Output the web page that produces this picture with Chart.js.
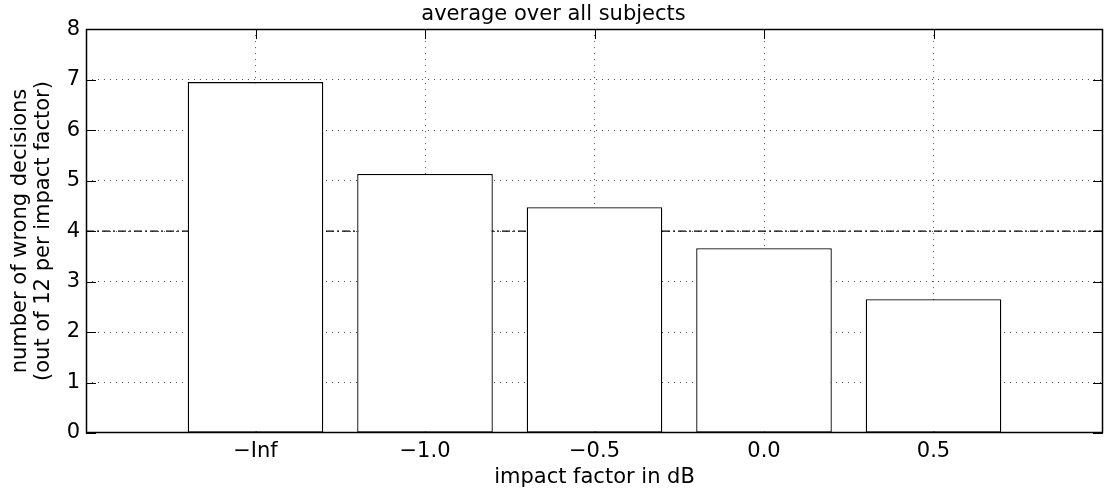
<!DOCTYPE html>
<html>
<head>
<meta charset="utf-8">
<title>average over all subjects</title>
<script src="https://cdn.jsdelivr.net/npm/chart.js@4.4.1/dist/chart.umd.min.js"></script>
<style>
  html, body { margin: 0; padding: 0; background: #fff; }
  #wrap { position: relative; width: 1109px; height: 496px; }
</style>
</head>
<body>
<div id="wrap"><canvas id="chart"></canvas></div>
<script>
// Impact factor conditions (x positions 1..5 on a 0..6 axis)
const categories = ['\u2212Inf', '\u22121.0', '\u22120.5', '0.0', '0.5'];
const positions = [1, 2, 3, 4, 5];
// Mean number of wrong decisions per condition
const wrongDecisions = [6.95, 5.13, 4.47, 3.66, 2.65];
// Horizontal reference level (half of 8)
const referenceLevel = [4, 4];
const referenceX = [0, 6];
const yTicks = [0, 1, 2, 3, 4, 5, 6, 7, 8];

const FONT = '"DejaVu Sans", sans-serif';

// Inside-pointing tick marks on all four sides, drawn under the bars
const innerTicks = {
  id: 'innerTicks',
  beforeDatasetsDraw(chart) {
    const { ctx, chartArea: a, scales: { x, y } } = chart;
    const len = 10;
    ctx.save();
    ctx.strokeStyle = '#000';
    ctx.lineWidth = 1;
    ctx.beginPath();
    yTicks.forEach(v => {
      const py = Math.round(y.getPixelForValue(v)) + 0.5;
      ctx.moveTo(a.left, py); ctx.lineTo(a.left + len, py);
      ctx.moveTo(a.right, py); ctx.lineTo(a.right - len, py);
    });
    positions.forEach(v => {
      const px = Math.round(x.getPixelForValue(v)) + 0.5;
      ctx.moveTo(px, a.top); ctx.lineTo(px, a.top + len);
      ctx.moveTo(px, a.bottom); ctx.lineTo(px, a.bottom - len);
    });
    ctx.stroke();
    ctx.restore();
  }
};

// Axes box around the plotting area
const frame = {
  id: 'frame',
  afterDatasetsDraw(chart) {
    const { ctx, chartArea: a } = chart;
    ctx.save();
    ctx.strokeStyle = '#000';
    ctx.lineWidth = 1.5;
    const l = Math.round(a.left) + 0.5, t = Math.round(a.top) + 0.5;
    const r = Math.round(a.right) - 0.5, b = Math.round(a.bottom) - 0.5;
    ctx.strokeRect(l, t, r - l, b - t);
    ctx.restore();
  }
};

const gridColor = (ctx, lo, hi) => {
  const v = ctx.tick && ctx.tick.value;
  return (v >= lo && v <= hi) ? '#555' : 'rgba(0,0,0,0)';
};

new Chart(document.getElementById('chart'), {
  type: 'bar',
  data: {
    datasets: [
      {
        type: 'bar',
        data: positions.map((p, i) => ({ x: p, y: wrongDecisions[i] })),
        backgroundColor: '#fff',
        borderColor: '#000',
        borderWidth: 1.3,
        borderSkipped: false,
        barPercentage: 0.8,
        categoryPercentage: 1.0,
        order: 1
      },
      {
        type: 'line',
        data: referenceX.map((p, i) => ({ x: p, y: referenceLevel[i] })),
        borderColor: '#000',
        borderWidth: 1.2,
        borderDash: [8, 3, 2, 3],
        pointRadius: 0,
        fill: false,
        order: 2
      }
    ]
  },
  options: {
    responsive: true,
    maintainAspectRatio: false,
    devicePixelRatio: 1,
    animation: false,
    layout: { padding: { left: 0, right: 2, top: 0, bottom: 0 } },
    plugins: {
      legend: { display: false },
      tooltip: { enabled: false },
      title: {
        display: true,
        text: 'average over all subjects',
        color: '#000',
        font: { family: FONT, size: 21, weight: 'normal', lineHeight: 1.1 },
        padding: { top: 3, bottom: 3 }
      }
    },
    scales: {
      x: {
        type: 'linear',
        min: 0,
        max: 6,
        offset: false,
        afterFit(scale) { scale.height = 63; },
        afterBuildTicks(scale) {
          scale.ticks = [0, ...positions, 6].map(v => ({ value: v }));
        },
        ticks: {
          color: '#000',
          font: { family: FONT, size: 21 },
          padding: 6,
          maxRotation: 0,
          autoSkip: false,
          callback: (v) => {
            const i = positions.indexOf(v);
            return i >= 0 ? categories[i] : '';
          }
        },
        grid: {
          offset: false,
          drawTicks: false,
          lineWidth: 1,
          color: (ctx) => gridColor(ctx, 1, 5)
        },
        border: { display: false, dash: [1, 5] },
        title: {
          display: true,
          text: 'impact factor in dB',
          color: '#000',
          font: { family: FONT, size: 21, lineHeight: 1.1 },
          padding: { top: 0, bottom: 7 }
        }
      },
      y: {
        type: 'linear',
        min: 0,
        max: 8,
        afterFit(scale) { scale.width = 86; },
        afterBuildTicks(scale) {
          scale.ticks = yTicks.map(v => ({ value: v }));
        },
        ticks: {
          color: '#000',
          font: { family: FONT, size: 21 },
          padding: 6
        },
        grid: {
          drawTicks: false,
          lineWidth: 1,
          color: (ctx) => gridColor(ctx, 1, 7)
        },
        border: { display: false, dash: [1, 5] },
        title: {
          display: true,
          text: ['number of wrong decisions', '(out of 12 per impact factor)'],
          color: '#000',
          font: { family: FONT, size: 21, lineHeight: 1.1 },
          padding: { top: 9, bottom: 0 }
        }
      }
    }
  },
  plugins: [innerTicks, frame]
});
</script>
</body>
</html>
